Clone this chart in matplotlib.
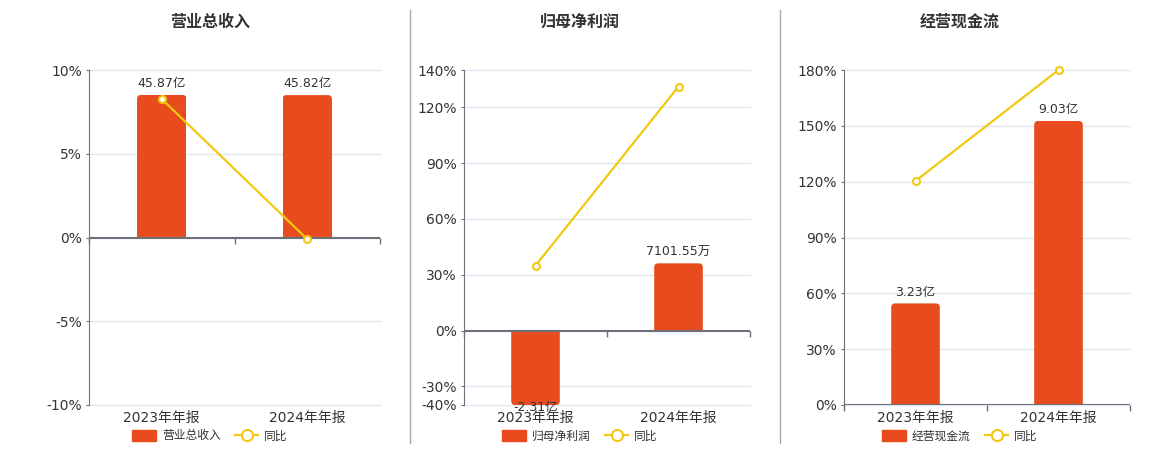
import matplotlib
import matplotlib.pyplot as plt
from matplotlib.lines import Line2D
from matplotlib.patches import FancyBboxPatch, Patch, Rectangle
from matplotlib.ticker import FuncFormatter

matplotlib.use("Agg")

plt.rcParams["font.family"] = ["DejaVu Sans", "Noto Sans CJK SC"]

# data
periods = ["2023年年报", "2024年年报"]
titles = ["营业总收入", "归母净利润", "经营现金流"]
revenue = [45.87, 45.82]              # 亿
profit = [-2.31, 0.710155]            # 亿
cashflow = [3.23, 9.03]               # 亿
revenue_labels = ["45.87亿", "45.82亿"]
profit_labels = ["-2.31亿", "7101.55万"]
cashflow_labels = ["3.23亿", "9.03亿"]
revenue_yoy = [8.27, -0.1]            # %
profit_yoy = [34.9, 131.1]            # %
cashflow_yoy = [120.4, 180.0]         # %

BAR = "#E84C1E"
LINE = "#F2C811"
AXIS = "#6E7079"
GRID = "#E0E6F1"
TEXT = "#333333"

W, H = 1160, 450

panels = [
    dict(title=titles[0], bars=revenue, labels=revenue_labels, yoy=revenue_yoy,
         left=89, right=380, ylim=(-10, 10), yticks=[-10, -5, 0, 5, 10],
         blim=(-53.9, 53.9), center=210),
    dict(title=titles[1], bars=profit, labels=profit_labels, yoy=profit_yoy,
         left=464, right=750, ylim=(-40, 140),
         yticks=[-40, -30, 0, 30, 60, 90, 120, 140],
         blim=(-0.77, 2.73), center=580),
    dict(title=titles[2], bars=cashflow, labels=cashflow_labels, yoy=cashflow_yoy,
         left=844, right=1130, ylim=(0, 180), yticks=[0, 30, 60, 90, 120, 150, 180],
         blim=(0, 10.65), center=960),
]

fig = plt.figure(figsize=(W / 100, H / 100), dpi=100, facecolor="white")

top_px, bot_px = 70, 405
x = list(range(len(periods)))
radius_px = 4

for p in panels:
    ax_w = p["right"] - p["left"]
    ax_h = bot_px - top_px
    rect = [p["left"] / W, 1 - bot_px / H, ax_w / W, ax_h / H]

    # percent axis: grid, ticks, spines
    ax = fig.add_axes(rect)
    ax.set_xlim(-0.5, len(periods) - 0.5)
    ax.set_ylim(*p["ylim"])
    ax.set_yticks(p["yticks"])
    ax.yaxis.set_major_formatter(FuncFormatter(lambda v, _: f"{v:.0f}%"))
    ax.grid(axis="y", color=GRID, lw=1)
    for gl in ax.get_ygridlines():
        gl.set_clip_on(False)
    ax.set_axisbelow(True)
    for s in ["top", "right"]:
        ax.spines[s].set_visible(False)
    ax.spines["left"].set_color(AXIS)
    ax.spines["bottom"].set_visible(False)
    ax.tick_params(axis="y", length=2, color=AXIS, labelsize=10,
                   labelcolor=TEXT, pad=3)
    ax.set_xticks([])

    sec = ax.secondary_xaxis("bottom")
    sec.set_xticks(x)
    sec.set_xticklabels(periods)
    sec.spines["bottom"].set_visible(False)
    sec.tick_params(length=0, labelsize=10, labelcolor=TEXT, pad=4)

    # bar axis
    axb = ax.twinx()
    axb.set_ylim(*p["blim"])
    axb.axis("off")
    bars = axb.bar(x, p["bars"], width=0.34, color=BAR, zorder=2)
    x_per_px = (len(periods)) / ax_w
    y_per_px = (p["blim"][1] - p["blim"][0]) / ax_h
    rx = radius_px * x_per_px
    ry = radius_px * y_per_px
    for bar, val, lab in zip(bars, p["bars"], p["labels"]):
        bar.set_visible(False)
        bx, bw = bar.get_x(), bar.get_width()
        # visible end of the bar inside the axis range
        end = min(max(val, p["blim"][0]), p["blim"][1])
        lo, hi = min(0, end), max(0, end)
        # rounded far end, square end at the zero line (clipped to the bar)
        if end >= 0:
            box = (bx, lo - ry)
        else:
            box = (bx, lo)
        rounded = FancyBboxPatch(box, bw, hi - lo + ry,
                                 boxstyle=f"round,pad=0,rounding_size={rx}",
                                 mutation_aspect=ry / rx, facecolor=BAR,
                                 edgecolor="none", zorder=2)
        axb.add_patch(rounded)
        clip = Rectangle((bx, lo), bw, hi - lo, transform=axb.transData)
        rounded.set_clip_path(clip)

        cx = bx + bw / 2
        if val >= 0:
            axb.annotate(lab, (cx, end), xytext=(0, 3.5), textcoords="offset points",
                         ha="center", va="bottom", fontsize=9, color=TEXT)
        else:
            axb.annotate(lab, (cx, end), xytext=(0, 3), textcoords="offset points",
                         ha="center", va="top", fontsize=9, color=TEXT,
                         annotation_clip=False)

    # line axis
    axl = ax.twinx()
    axl.set_ylim(*p["ylim"])
    axl.axis("off")
    axl.axhline(0, color=AXIS, lw=1.5, zorder=1)
    for xt in [-0.5 + i for i in range(len(periods) + 1)]:
        axl.plot([xt], [0], marker=3, markersize=4, color=AXIS,
                 markeredgewidth=1, clip_on=False)
    axl.plot(x, p["yoy"], color=LINE, lw=1.6, marker="o", markersize=5,
             markerfacecolor="white", markeredgecolor=LINE, markeredgewidth=1.5,
             clip_on=False, zorder=3)

    fig.text(p["center"] / W, 1 - 22 / H, p["title"], ha="center", va="center",
             fontsize=11.5, fontweight="bold", color=TEXT,
             family=["Noto Sans CJK SC", "DejaVu Sans"])

    handles = [
        Patch(facecolor=BAR, edgecolor=BAR),
        Line2D([], [], color=LINE, lw=1.6, marker="o", markersize=8,
               markerfacecolor="white", markeredgecolor=LINE, markeredgewidth=1.5),
    ]
    fig.legend(handles, [p["title"], "同比"], loc="center",
               bbox_to_anchor=(p["center"] / W, 1 - 436 / H),
               bbox_transform=fig.transFigure, ncol=2, frameon=False,
               handlelength=2.0, handleheight=1.1,
               columnspacing=1.2, handletextpad=0.5, labelcolor=TEXT,
               prop={"family": ["Noto Sans CJK SC", "DejaVu Sans"], "size": 8.5})

# panel dividers
for xd in [410, 780]:
    fig.add_artist(Line2D([xd / W, xd / W], [1 - 10 / H, 1 - 443 / H],
                          color="#AAAAAA", lw=1, transform=fig.transFigure))

fig.savefig("out.png", dpi=100, facecolor="white")
